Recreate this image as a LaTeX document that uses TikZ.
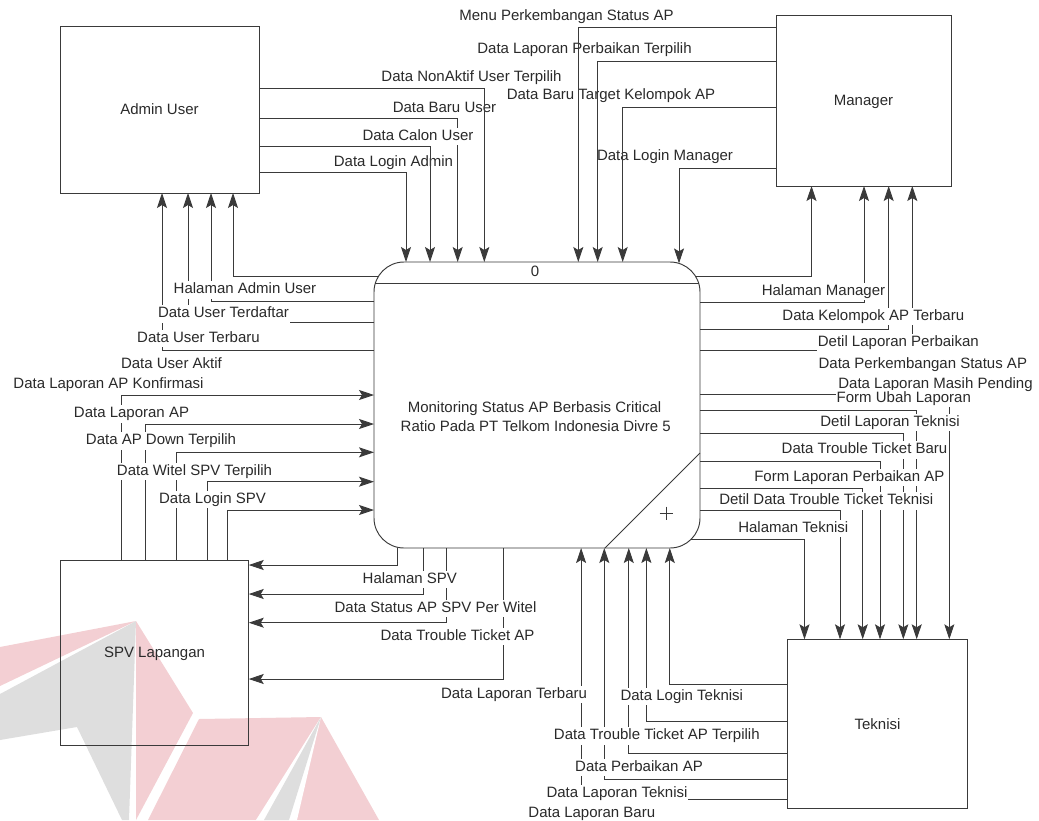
\documentclass[tikz,border=0pt]{standalone}
\usepackage{fontspec}
\setmainfont{Liberation Sans}
\usetikzlibrary{arrows.meta}
\definecolor{ink}{HTML}{2A2A2A}
\definecolor{edge}{HTML}{3A3A3A}
\definecolor{wmred}{HTML}{F3CFD3}
\definecolor{wmgray}{HTML}{DEDEDE}
\newcommand\dfdfont{\fontsize{15}{18}\selectfont}

\begin{document}
\begin{tikzpicture}[x=1pt,y=-1pt,
  ent/.style={draw=edge, line width=0.95pt, outer sep=0pt, inner sep=0pt,
    font=\dfdfont, text=ink, text height=10.7pt, text depth=0pt},
  procbox/.style={draw=edge, line width=0.95pt, outer sep=0pt, rounded corners=30pt,
    minimum width=326pt, minimum height=286pt},
  flow/.style={draw=edge, line width=0.9pt,
    -{Stealth[length=15pt,width=10pt,inset=3pt]}},
  lbl/.style={fill=white, inner xsep=1pt, inner ysep=1.5pt, text height=11pt,
    text depth=3.5pt, font=\dfdfont, text=ink, anchor=base},
  ptext/.style={font=\dfdfont, text=ink, anchor=base, inner sep=0pt}]
\useasboundingbox (0,0) rectangle (1039,820);

% faint logo in the lower left corner
\fill[wmred] (0,647) -- (136,621) -- (0,686) -- cycle;
\fill[wmgray] (136,621) -- (0,694) -- (0,740) -- (77,727) -- (122,820) -- (129,820) -- cycle;
\fill[wmred] (136,621) -- (193,713) -- (136,820) -- cycle;
\fill[wmred] (199,719) -- (321,717) -- (379,820) -- (148,820) -- cycle;
\fill[white] (321,717) -- (256,820) -- (297,820) -- cycle;
\fill[wmgray] (321,717) -- (264,820) -- (289,820) -- cycle;

% upper labels that the flow lines run across
\node[lbl] (lMenu) at (566.5,20.4) {Menu Perkembangan Status AP};
\node[lbl] (lLapPerb) at (584.5,53.7) {Data Laporan Perbaikan Terpilih};
\node[lbl] (lNonAktif) at (471.5,81.4) {Data NonAktif User Terpilih};
\node[lbl] (lTarget) at (611,99.7) {Data Baru Target Kelompok AP};
\node[lbl] (lBaru) at (444.5,112) {Data Baru User};
\node[lbl] (lLoginMgr) at (665,160.4) {Data Login Manager};
\node[lbl] (lLoginAdm) at (393.5,166.4) {Data Login Admin};

% external entities
\node[ent, minimum width=199pt, minimum height=167pt] (admin) at (159.5,109.5) {Admin User};
\node[ent, minimum width=175pt, minimum height=171pt] (manager) at (863.5,100.5) {Manager};
\node[ent, minimum width=188.5pt, minimum height=185pt] (spv) at (154.5,652.5) {SPV Lapangan};
\node[ent, minimum width=180pt, minimum height=169pt] (teknisi) at (877.5,723.8) {Teknisi};

% process 0
\node[procbox] (proc) at (537,405) {};
\draw[edge, line width=0.95pt] (375.4,283) -- (698.6,283);
\draw[edge, line width=0.9pt] (proc.east |- 0,453) -- (proc.south -| 605,0);
\draw[edge, line width=0.9pt] (659.6,513.3) -- (673,513.3) (666.3,506.6) -- (666.3,520);
\node[ptext] (pnum) at (535,276.4) {0};
\node[ptext] (ptitle1) at (534.5,412) {Monitoring Status AP Berbasis Critical};
\node[ptext] (ptitle2) at (535.8,431) {Ratio Pada PT Telkom Indonesia Divre 5};

% free ends on the rounded corners of the process
\coordinate (cAdm) at (378.6,276.7);
\coordinate (cMgrIn) at (679,263.4);
\coordinate (cMgr) at (695.9,276.7);
\coordinate (cTek) at (691.4,539.3);

% Admin User -> process
\draw[flow] (admin.east |- 0,88.7) -| (proc.north -| 484.3,0);
\draw[flow] (admin.east |- 0,118) -| (proc.north -| 457.7,0);
\draw[flow] (admin.east |- 0,146.7) -| (proc.north -| 430,0);
\draw[flow] (admin.east |- 0,172) -| (proc.north -| 406,0);

% Manager -> process
\draw[flow] (manager.west |- 0,27.7) -| (proc.north -| 578.3,0);
\draw[flow] (manager.west |- 0,61) -| (proc.north -| 597.7,0);
\draw[flow] (manager.west |- 0,107.3) -| (proc.north -| 622.7,0);
\draw[flow] (manager.west |- 0,168.3) -| (cMgrIn);

% process -> Admin User
\draw[flow] (cAdm) -| (admin.south -| 233,0);
\draw[flow] (proc.west |- 0,301) -| (admin.south -| 211,0);
\draw[flow] (proc.west |- 0,322.3) -| (admin.south -| 188,0);
\draw[flow] (proc.west |- 0,350) -| (admin.south -| 162,0);

% process -> Manager
\draw[flow] (cMgr) -| (manager.south -| 811.5,0);
\draw[flow] (proc.east |- 0,302.7) -| (manager.south -| 864,0);
\draw[flow] (proc.east |- 0,329.3) -| (manager.south -| 888.7,0);
\draw[flow] (proc.east |- 0,350) -| (manager.south -| 912.3,0);

% process -> Teknisi
\draw[flow] (proc.east |- 0,394.3) -| (teknisi.north -| 949.3,0);
\draw[flow] (proc.east |- 0,410) -| (teknisi.north -| 916.7,0);
\draw[flow] (proc.east |- 0,433.3) -| (teknisi.north -| 903.3,0);
\draw[flow] (proc.east |- 0,461) -| (teknisi.north -| 880,0);
\draw[flow] (proc.east |- 0,488.7) -| (teknisi.north -| 862.7,0);
\draw[flow] (proc.east |- 0,510.7) -| (teknisi.north -| 840,0);
\draw[flow] (cTek) -| (teknisi.north -| 804.5,0);

% Teknisi -> process
\draw[flow] (teknisi.west |- 0,684.3) -| (proc.south -| 669.8,0);
\draw[flow] (teknisi.west |- 0,721.7) -| (proc.south -| 646.4,0);
\draw[flow] (teknisi.west |- 0,753.9) -| (proc.south -| 628.8,0);
\draw[flow] (teknisi.west |- 0,779.7) -| (proc.south -| 604.3,0);
\draw[flow] (teknisi.west |- 0,799.3) -| (proc.south -| 581.1,0);

% process -> SPV Lapangan
\draw[flow] (proc.south -| 397.5,0) |- (spv.east |- 0,565);
\draw[flow] (proc.south -| 423.2,0) |- (spv.east |- 0,594);
\draw[flow] (proc.south -| 446.4,0) |- (spv.east |- 0,622.7);
\draw[flow] (proc.south -| 503.6,0) |- (spv.east |- 0,679);

% SPV Lapangan -> process
\draw[flow] (spv.north -| 121.7,0) |- (proc.west |- 0,395);
\draw[flow] (spv.north -| 145,0) |- (proc.west |- 0,424);
\draw[flow] (spv.north -| 176,0) |- (proc.west |- 0,452.3);
\draw[flow] (spv.north -| 207.7,0) |- (proc.west |- 0,481.7);
\draw[flow] (spv.north -| 227.7,0) |- (proc.west |- 0,510);

% labels drawn over the lines
\node[lbl] (lCalon) at (418,140.4) {Data Calon User};

\node[lbl] (lHalAdm) at (245,293.7) {Halaman Admin User};
\node[lbl] (lTerdaftar) at (223.5,317.7) {Data User Terdaftar};
\node[lbl] (lTerbaru) at (198.5,342) {Data User Terbaru};
\node[lbl] (lAktif) at (171.5,368.7) {Data User Aktif};
\node[lbl] (lKonf) at (108.5,388.7) {Data Laporan AP Konfirmasi};
\node[lbl] (lLapAP) at (131.5,417.7) {Data Laporan AP};
\node[lbl] (lDown) at (161,444.7) {Data AP Down Terpilih};
\node[lbl] (lWitel) at (194.5,475.4) {Data Witel SPV Terpilih};
\node[lbl] (lLoginSPV) at (212.5,503) {Data Login SPV};

\node[lbl] (lHalMgr) at (823.5,295.4) {Halaman Manager};
\node[lbl] (lKelompok) at (873.3,320.4) {Data Kelompok AP Terbaru};
\node[lbl] (lDetPerb) at (898.3,346) {Detil Laporan Perbaikan};
\node[lbl] (lPerkemb) at (922.8,368) {Data Perkembangan Status AP};
\node[lbl] (lPending) at (935.5,388) {Data Laporan Masih Pending};
\node[lbl] (lUbah) at (903.8,402) {Form Ubah Laporan};
\node[lbl] (lDetTek) at (890,426.4) {Detil Laporan Teknisi};
\node[lbl] (lTTBaru) at (864.5,453.7) {Data Trouble Ticket Baru};
\node[lbl] (lFormPerb) at (849.3,481.4) {Form Laporan Perbaikan AP};
\node[lbl] (lDetTT) at (826.3,504.7) {Detil Data Trouble Ticket Teknisi};
\node[lbl] (lHalTek) at (793.3,532) {Halaman Teknisi};

\node[lbl] (lHalSPV) at (409.8,583) {Halaman SPV};
\node[lbl] (lStatus) at (435.5,612) {Data Status AP SPV Per Witel};
\node[lbl] (lTTAP) at (457.5,640.4) {Data Trouble Ticket AP};
\node[lbl] (lLapTerbaru) at (514,698) {Data Laporan Terbaru};

\node[lbl] (lLoginTek) at (681.8,700.4) {Data Login Teknisi};
\node[lbl] (lTTPilih) at (656.8,739.7) {Data Trouble Ticket AP Terpilih};
\node[lbl] (lPerbAP) at (639,771.4) {Data Perbaikan AP};
\node[lbl] (lLapTek) at (617,797) {Data Laporan Teknisi};
\node[lbl] (lLapBaru) at (591.8,817) {Data Laporan Baru};
\end{tikzpicture}
\end{document}
